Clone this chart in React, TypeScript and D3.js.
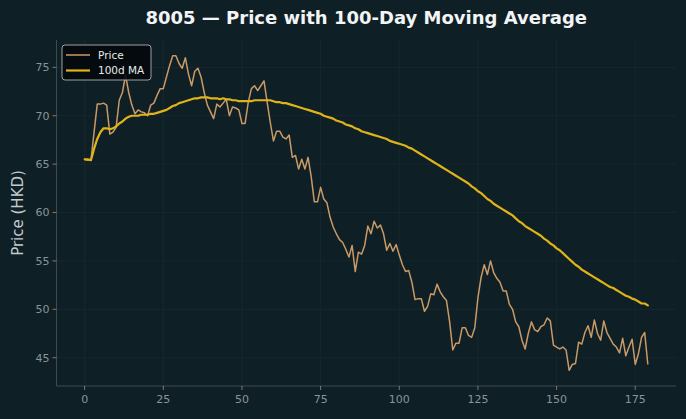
import * as d3 from 'd3';
import React from 'react';

// daily closing prices (HKD), day 0 .. 179
const price = [
  65.5, 65.4, 65.4, 68.3, 71.2, 71.2, 71.3, 71.1, 68.1, 68.3,
  68.8, 71.6, 72.4, 74.2, 72.4, 71.1, 70.2, 70.6, 70.4, 70.3,
  70.0, 71.1, 71.3, 72.1, 72.8, 72.8, 74.0, 75.2, 76.2, 76.2,
  75.4, 74.9, 76.0, 74.3, 73.1, 74.6, 74.9, 74.0, 72.4, 71.1,
  70.4, 69.7, 71.2, 70.9, 71.3, 71.7, 70.0, 70.9, 70.8, 70.6,
  69.2, 69.2, 71.4, 72.8, 73.1, 72.6, 73.1, 73.6, 71.4, 69.3,
  67.4, 68.4, 68.4, 67.8, 67.6, 68.0, 65.7, 65.9, 64.5, 65.5,
  64.5, 65.7, 63.7, 61.1, 61.1, 62.6, 61.4, 61.0, 59.5, 58.5,
  57.8, 57.2, 56.9, 56.2, 55.4, 56.6, 53.9, 55.9, 55.7, 56.6,
  58.6, 57.8, 59.1, 58.4, 58.7, 57.8, 56.1, 56.8, 56.0, 56.7,
  55.6, 54.6, 53.9, 54.0, 52.8, 51.0, 51.1, 51.1, 49.8, 50.3,
  51.6, 51.5, 52.6, 51.8, 51.3, 50.9, 48.7, 45.8, 46.5, 46.5,
  48.1, 48.1, 47.3, 47.1, 48.1, 51.2, 53.3, 54.6, 53.6, 55.0,
  53.8, 53.2, 52.8, 51.9, 51.9, 50.5, 50.0, 48.7, 48.2, 46.8,
  45.9, 47.5, 48.7, 47.9, 47.7, 48.2, 48.4, 49.1, 48.8, 46.3,
  46.1, 45.9, 46.1, 45.8, 43.7, 44.3, 44.4, 46.6, 46.4, 47.6,
  48.3, 47.1, 48.9, 47.5, 46.8, 48.8, 47.6, 47.0, 46.4, 46.1,
  45.5, 47.0, 45.2, 46.1, 46.9, 44.3, 45.4, 47.1, 47.6, 44.3,
];

// 100-day moving average
const ma100 = [
  65.5, 65.5, 65.4, 66.6, 67.6, 68.3, 68.7, 68.7, 68.6, 68.7,
  68.9, 69.2, 69.4, 69.7, 69.9, 70.0, 70.0, 70.0, 70.1, 70.1,
  70.1, 70.2, 70.2, 70.3, 70.4, 70.5, 70.6, 70.8, 71.0, 71.1,
  71.3, 71.4, 71.5, 71.6, 71.7, 71.8, 71.8, 71.9, 71.9, 71.9,
  71.8, 71.8, 71.8, 71.7, 71.8, 71.7, 71.7, 71.6, 71.6, 71.5,
  71.5, 71.5, 71.5, 71.5, 71.6, 71.6, 71.6, 71.6, 71.6, 71.6,
  71.5, 71.4, 71.4, 71.3, 71.3, 71.2, 71.1, 71.0, 70.9, 70.8,
  70.7, 70.6, 70.5, 70.4, 70.3, 70.2, 70.0, 69.9, 69.8, 69.7,
  69.5, 69.4, 69.3, 69.1, 69.0, 68.9, 68.7, 68.6, 68.4, 68.3,
  68.2, 68.1, 68.0, 67.9, 67.8, 67.7, 67.6, 67.4, 67.3, 67.2,
  67.1, 67.0, 66.9, 66.7, 66.6, 66.4, 66.2, 66.0, 65.8, 65.6,
  65.4, 65.2, 65.0, 64.8, 64.6, 64.4, 64.2, 64.0, 63.8, 63.6,
  63.4, 63.2, 63.0, 62.7, 62.5, 62.2, 62.0, 61.7, 61.4, 61.2,
  60.9, 60.7, 60.5, 60.3, 60.1, 59.9, 59.7, 59.4, 59.1, 58.9,
  58.6, 58.4, 58.2, 58.0, 57.8, 57.6, 57.3, 57.1, 56.8, 56.6,
  56.3, 56.1, 55.8, 55.5, 55.2, 54.9, 54.6, 54.4, 54.1, 53.9,
  53.7, 53.5, 53.3, 53.1, 52.9, 52.7, 52.5, 52.3, 52.2, 52.0,
  51.8, 51.6, 51.4, 51.3, 51.1, 51.0, 50.8, 50.6, 50.6, 50.4,
];

const xTicks = [0, 25, 50, 75, 100, 125, 150, 175];
const yTicks = [45, 50, 55, 60, 65, 70, 75];

const seriesNames = ['Price', '100d MA'];
const title = '8005 \u2014 Price with 100-Day Moving Average';
const yLabel = 'Price (HKD)';

const width = 686;
const height = 419;
const margin = { top: 40, right: 10, bottom: 33, left: 56.5 };

const bg = '#0f1f26';
const gridColor = '#192a31';
const spineColor = '#3d4b51';
const tickText = '#8a9498';
const priceColor = '#c99a66';
const maColor = '#e0b419';
const font = '"DejaVu Sans", sans-serif';

export default function App() {
  const days = price.map((_, i) => i);

  // pad both axes by 5% of the data span
  const xPad = (days.length - 1) * 0.05;
  const x = d3.scaleLinear()
    .domain([-xPad, days.length - 1 + xPad])
    .range([margin.left, width - margin.right]);

  const [lo, hi] = d3.extent([...price, ...ma100]) as [number, number];
  const yPad = (hi - lo) * 0.05;
  const y = d3.scaleLinear()
    .domain([lo - yPad, hi + yPad])
    .range([height - margin.bottom, margin.top]);

  const line = d3.line<number>()
    .x((_, i) => x(i))
    .y(d => y(d));

  const x0 = margin.left;
  const x1 = width - margin.right;
  const y0 = height - margin.bottom;
  const y1 = margin.top;

  return (
    <svg width={width} height={height} style={{ position: 'absolute', left: 0, top: 0, display: 'block' }}
      fontFamily={font}>
      <rect width={width} height={height} fill={bg} />

      {/* grid */}
      {xTicks.map(t => (
        <line key={'gx' + t} x1={x(t)} x2={x(t)} y1={y1} y2={y0} stroke={gridColor} strokeWidth={0.8} />
      ))}
      {yTicks.map(t => (
        <line key={'gy' + t} x1={x0} x2={x1} y1={y(t)} y2={y(t)} stroke={gridColor} strokeWidth={0.8} />
      ))}

      {/* series */}
      <path d={line(price) || ''} fill="none" stroke={priceColor} strokeWidth={1.5} strokeLinejoin="round" />
      <path d={line(ma100) || ''} fill="none" stroke={maColor} strokeWidth={2.2} strokeLinejoin="round" strokeLinecap="round" />

      {/* spines */}
      <line x1={x0} x2={x0} y1={y1} y2={y0} stroke={spineColor} strokeWidth={1} />
      <line x1={x0} x2={x1} y1={y0} y2={y0} stroke={spineColor} strokeWidth={1} />

      {/* x axis */}
      {xTicks.map(t => (
        <g key={'tx' + t} transform={`translate(${x(t)},${y0})`}>
          <line y2={4} stroke={tickText} strokeWidth={0.8} />
          <text y={17} textAnchor="middle" fontSize={11} fill={tickText}>{t}</text>
        </g>
      ))}

      {/* y axis */}
      {yTicks.map(t => (
        <g key={'ty' + t} transform={`translate(${x0},${y(t)})`}>
          <line x2={-4} stroke={tickText} strokeWidth={0.8} />
          <text x={-7} dy="0.35em" textAnchor="end" fontSize={11} fill={tickText}>{t}</text>
        </g>
      ))}
      <text transform={`translate(18,${(y0 + y1) / 2}) rotate(-90)`} dy="0.35em" textAnchor="middle" fontSize={15}
        fill="#c3c9cc">{yLabel}</text>

      <text x={(x0 + x1) / 2} y={24} textAnchor="middle" fontSize={18} fontWeight="bold" fill="#f2f4f5">
        {title}
      </text>

      {/* legend */}
      <g transform="translate(62,45)">
        <rect width={89} height={35} rx={3} fill="#03080b" fillOpacity={0.9} stroke="#9aa2a6" strokeWidth={1} />
        {seriesNames.map((name, i) => (
          <g key={name} transform={`translate(0,${10 + i * 15.5})`}>
            <line x1={4} x2={28} stroke={i === 0 ? priceColor : maColor} strokeWidth={i === 0 ? 1.5 : 2.2} />
            <text x={36} dy="0.35em" fontSize={10.5} fill="#e8ebec">{name}</text>
          </g>
        ))}
      </g>
    </svg>
  );
}
